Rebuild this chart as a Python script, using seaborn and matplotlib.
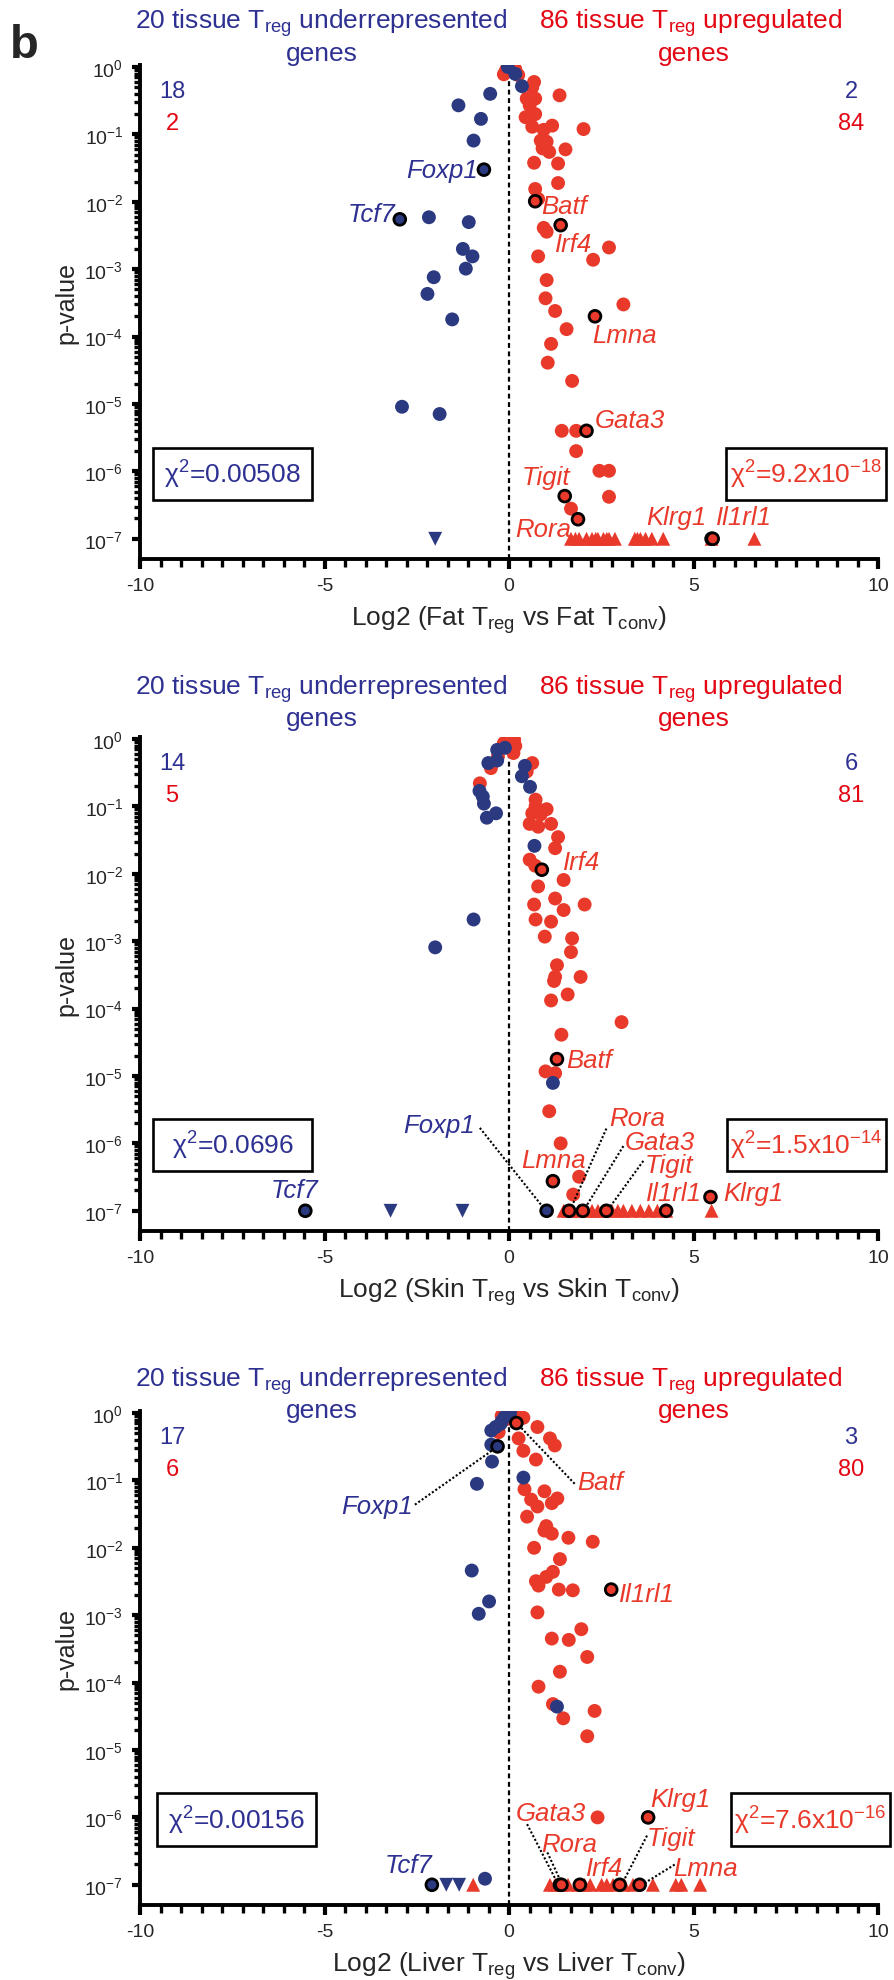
import numpy as np
import pandas as pd
import matplotlib
matplotlib.use("Agg")
import matplotlib.pyplot as plt
import seaborn as sns
from matplotlib.ticker import FixedLocator, MultipleLocator, AutoMinorLocator, NullFormatter
from matplotlib.patches import Rectangle

sns.set_style("ticks")
plt.rcParams['font.family'] = ['Liberation Sans', 'DejaVu Sans']
plt.rcParams['mathtext.fontset'] = 'custom'
plt.rcParams['mathtext.rm'] = 'Liberation Sans'
plt.rcParams['mathtext.it'] = 'Liberation Sans:italic'
plt.rcParams['mathtext.bf'] = 'Liberation Sans:bold'

# ---------------- DATA ----------------
# Panel 1: Fat
fat_blue_x = [-0.03, 0.17, 0.35, -0.51, -1.37, -0.76, -0.96, -2.17, -1.09, -1.25, -0.99, -1.17,
              -2.04, -2.21, -1.54, -2.90, -1.88]
fat_blue_p = [1.0, 0.79, 0.52, 0.40, 0.27, 0.17, 0.081, 0.0059, 0.0050, 0.0020, 0.00155, 0.00102,
              0.00076, 0.00043, 0.00018, 9.1e-6, 7.1e-6]
fat_blue_tri_x = [-2.0]
fat_red_x = [-0.14, -0.08, 0.17, 0.25, 0.68, 0.63, 1.37, 0.48, 0.71, 0.56, 0.71, 0.45, 0.63, 0.94,
             1.17, 2.02, 0.86, 1.02, 0.91, 1.09, 1.53, 0.68, 1.33, 1.33, 0.71, 0.79, 0.94, 1.02,
             2.71, 0.79, 2.28, 1.02, 0.99, 3.10, 1.25, 1.56, 1.14, 1.05, 1.71, 1.43, 1.82, 1.82,
             2.45, 2.71, 2.71, 1.68]
fat_red_p = [0.78, 0.90, 0.93, 0.76, 0.60, 0.50, 0.38, 0.34, 0.34, 0.27, 0.20, 0.18, 0.13, 0.117,
             0.135, 0.12, 0.081, 0.078, 0.062, 0.055, 0.060, 0.038, 0.037, 0.019, 0.0155, 0.011,
             0.0041, 0.0036, 0.0021, 0.00155, 0.00138, 0.00069, 0.00037, 0.0003, 0.00024,
             0.000129, 7.8e-5, 4.1e-5, 2.2e-5, 4.0e-6, 4.0e-6, 2.0e-6, 1.02e-6, 1.02e-6, 4.2e-7,
             2.8e-7]
fat_red_tri_x = [1.68, 1.80, 1.90, 2.10, 2.25, 2.35, 2.41, 2.56, 2.65, 2.71, 2.87, 3.41, 3.48,
                 3.56, 3.70, 3.87, 4.18, 5.49, 6.65]
fat_gene = ["Foxp1", "Tcf7", "Batf", "Irf4", "Lmna", "Gata3", "Tigit", "Rora", "Klrg1", "Il1rl1"]
fat_gene_x = [-0.68, -2.96, 0.71, 1.40, 2.33, 2.10, 1.51, 1.87, 5.49, 5.52]
fat_gene_p = [0.030, 0.0055, 0.0102, 0.0045, 2.0e-4, 4.0e-6, 4.3e-7, 1.95e-7, 1e-7, 1e-7]
fat_gene_up = [False, False, True, True, True, True, True, True, True, True]

# Panel 2: Skin
skin_blue_x = [-0.32, -0.11, -0.56, -0.32, 0.43, 0.35, 0.57, -0.80, -0.71, -0.68, -0.35, -0.60,
               0.69, -0.96, -2.00, 1.19]
skin_blue_p = [0.69, 0.74, 0.44, 0.48, 0.40, 0.28, 0.195, 0.17, 0.14, 0.11, 0.079, 0.068, 0.026,
               0.0021, 0.00081, 7.9e-6]
skin_blue_tri_x = [-3.21, -1.26]
skin_red_x = [-0.14, -0.05, 0.14, 0.17, 0.12, -0.49, -0.79, -0.30, 0.63, 0.48, 0.72, 0.72, 1.02,
              0.63, 0.86, 0.56, 0.79, 1.14, 1.33, 1.25, 0.56, 0.71, 1.48, 0.79, 1.25, 0.68, 1.48,
              2.05, 0.72, 1.14, 0.97, 1.71, 1.68, 1.30, 1.25, 1.94, 1.22, 1.59, 1.14, 3.05, 1.42,
              0.99, 1.25, 1.09, 1.40, 1.90, 1.74]
skin_red_p = [0.87, 0.80, 0.98, 0.79, 0.62, 0.37, 0.22, 0.55, 0.44, 0.33, 0.126, 0.10, 0.091,
              0.079, 0.076, 0.055, 0.050, 0.055, 0.035, 0.024, 0.0162, 0.0132, 0.0081, 0.0065,
              0.0043, 0.0035, 0.0029, 0.0035, 0.0021, 0.00195, 0.00117, 0.0011, 0.00069,
              0.00044, 0.000295, 0.000295, 0.000257, 0.000162, 0.000132, 6.3e-5, 4.1e-5,
              1.17e-5, 1.1e-5, 3.0e-6, 1.0e-6, 3.2e-7, 1.74e-7]
skin_red_tri_x = [1.48, 1.60, 1.71, 1.90, 2.10, 2.25, 2.41, 2.56, 2.79, 2.95, 3.10, 3.33, 3.56,
                  3.79, 4.02, 4.26, 5.49]
skin_gene = ["Foxp1", "Tcf7", "Irf4", "Batf", "Lmna", "Rora", "Gata3", "Tigit", "Il1rl1", "Klrg1"]
skin_gene_x = [1.02, -5.52, 0.89, 1.30, 1.19, 1.63, 2.00, 2.64, 4.26, 5.46]
skin_gene_p = [1e-7, 1e-7, 0.0115, 1.78e-5, 2.75e-7, 1e-7, 1e-7, 1e-7, 1e-7, 1.6e-7]
skin_gene_up = [False, False, True, True, True, True, True, True, True, True]

# Panel 3: Liver
liver_blue_x = [0.03, -0.12, -0.23, -0.36, -0.48, -0.20, -0.48, -0.46, 0.39, -0.87, -1.01, -0.54,
                -0.82, 1.30, -0.65]
liver_blue_p = [1.0, 0.87, 0.69, 0.62, 0.55, 0.75, 0.34, 0.19, 0.11, 0.089, 0.0046, 0.0016,
                0.00105, 4.4e-5, 1.23e-7]
liver_blue_tri_x = [-1.70, -1.35]
liver_red_x = [-0.20, -0.05, -0.10, 0.19, 0.39, 0.77, -0.28, 0.26, 1.11, 1.24, 0.39, 0.73, 0.42,
               0.96, 0.60, 1.31, 1.16, 0.77, 0.49, 1.01, 0.96, 1.16, 1.61, 2.27, 0.68, 1.38,
               1.19, 1.01, 0.73, 0.80, 1.35, 1.73, 0.77, 1.96, 1.16, 1.62, 2.12, 1.38, 0.80,
               1.19, 2.32, 1.47, 2.12, 2.40]
liver_red_p = [0.91, 0.95, 0.80, 0.91, 0.85, 0.62, 0.52, 0.42, 0.42, 0.33, 0.275, 0.204, 0.074,
               0.069, 0.052, 0.054, 0.046, 0.041, 0.029, 0.021, 0.018, 0.0162, 0.0141, 0.0123,
               0.0100, 0.0068, 0.0044, 0.0037, 0.0032, 0.00275, 0.0024, 0.00234, 0.0011,
               0.00062, 0.00045, 0.00043, 0.00024, 0.000145, 8.7e-5, 4.8e-5, 3.8e-5, 2.95e-5,
               1.6e-5, 1.0e-6]
liver_red_tri_x = [-0.97, 1.11, 1.25, 1.42, 1.60, 1.89, 2.05, 2.20, 2.51, 2.65, 2.82, 3.12, 3.36,
                   3.90, 4.52, 4.67, 5.18]
liver_gene = ["Foxp1", "Tcf7", "Batf", "Il1rl1", "Klrg1", "Gata3", "Rora", "Irf4", "Tigit", "Lmna"]
liver_gene_x = [-0.31, -2.09, 0.20, 2.77, 3.77, 1.38, 1.42, 1.92, 3.00, 3.54]
liver_gene_p = [0.32, 1e-7, 0.71, 0.0024, 1e-6, 1e-7, 1e-7, 1e-7, 1e-7, 1e-7]
liver_gene_up = [False, False, True, True, True, True, True, True, True, True]

counts = [("18", "2", "2", "84"), ("14", "5", "6", "81"), ("17", "6", "3", "80")]
chi_left = ["χ$^{2}$=0.00508", "χ$^{2}$=0.0696", "χ$^{2}$=0.00156"]
chi_right = ["χ$^{2}$=9.2x10$^{-18}$", "χ$^{2}$=1.5x10$^{-14}$", "χ$^{2}$=7.6x10$^{-16}$"]
xlabels = [r"Log2 (Fat T$_{\rm reg}$ vs Fat T$_{\rm conv}$)",
           r"Log2 (Skin T$_{\rm reg}$ vs Skin T$_{\rm conv}$)",
           r"Log2 (Liver T$_{\rm reg}$ vs Liver T$_{\rm conv}$)"]
ytick_vals = [1, 1e-1, 1e-2, 1e-3, 1e-4, 1e-5, 1e-6, 1e-7]
ytick_labels = ["10$^{0}$", "10$^{-1}$", "10$^{-2}$", "10$^{-3}$", "10$^{-4}$", "10$^{-5}$",
                "10$^{-6}$", "10$^{-7}$"]

BLUE = "#2B3A80"
BLUE_T = "#2E3192"
RED = "#E8392A"
RED_T = "#E30613"
FLOOR = 1e-7

W, H = 894, 1981
fig = plt.figure(figsize=(W / 100, H / 100), dpi=100)


def fx(x):
    return x / W


def fy(y):
    return 1 - y / H


panels = [
    dict(bx=fat_blue_x, bp=fat_blue_p, btx=fat_blue_tri_x, rx=fat_red_x, rp=fat_red_p,
         rtx=fat_red_tri_x, g=fat_gene, gx=fat_gene_x, gp=fat_gene_p, gu=fat_gene_up,
         bottom=560, title_y=(29, 61), box_y=(449, 501), box_l=(153, 312), box_r=(726, 886),
         labels=[("Foxp1", -0.83, -1.53, "right", False), ("Tcf7", -3.07, -2.18, "right", False),
                 ("Batf", 0.86, -2.06, "left", True), ("Irf4", 1.25, -2.62, "left", True),
                 ("Lmna", 2.25, -3.98, "left", True), ("Gata3", 2.33, -5.24, "left", True),
                 ("Tigit", 0.35, -6.09, "left", True), ("Rora", 0.17, -6.86, "left", True),
                 ("Klrg1", 3.72, -6.68, "left", True), ("Il1rl1", 5.62, -6.68, "left", True)],
         leaders=[]),
    dict(bx=skin_blue_x, bp=skin_blue_p, btx=skin_blue_tri_x, rx=skin_red_x, rp=skin_red_p,
         rtx=skin_red_tri_x, g=skin_gene, gx=skin_gene_x, gp=skin_gene_p, gu=skin_gene_up,
         bottom=1232, title_y=(695, 726), box_y=(1120, 1172), box_l=(153, 312), box_r=(727, 886),
         labels=[("Irf4", 1.45, -1.83, "left", True), ("Batf", 1.56, -4.76, "left", True),
                 ("Foxp1", -0.91, -5.72, "right", False), ("Rora", 2.71, -5.62, "left", True),
                 ("Gata3", 3.13, -5.98, "left", True), ("Tigit", 3.69, -6.32, "left", True),
                 ("Lmna", 0.32, -6.24, "left", True), ("Il1rl1", 3.72, -6.74, "left", True),
                 ("Klrg1", 5.80, -6.74, "left", True), ("Tcf7", -6.46, -6.69, "left", False)],
         leaders=[((-0.79, -5.77), (0.94, -6.96)), ((2.64, -5.78), (1.68, -6.96)),
                  ((3.10, -6.04), (2.05, -6.97)), ((3.64, -6.26), (2.70, -6.97))]),
    dict(bx=liver_blue_x, bp=liver_blue_p, btx=liver_blue_tri_x, rx=liver_red_x, rp=liver_red_p,
         rtx=liver_red_tri_x, g=liver_gene, gx=liver_gene_x, gp=liver_gene_p, gu=liver_gene_up,
         bottom=1906, title_y=(1387, 1418), box_y=(1794, 1847), box_l=(157, 316), box_r=(731, 890),
         labels=[("Foxp1", -2.60, -1.38, "right", False), ("Batf", 1.84, -1.03, "left", True),
                 ("Il1rl1", 2.97, -2.68, "left", True), ("Klrg1", 3.82, -5.73, "left", True),
                 ("Gata3", 0.19, -5.93, "left", True), ("Rora", 0.88, -6.40, "left", True),
                 ("Irf4", 2.09, -6.75, "left", True), ("Tigit", 3.74, -6.30, "left", True),
                 ("Lmna", 4.44, -6.75, "left", True), ("Tcf7", -3.37, -6.70, "left", False)],
         leaders=[((-2.55, -1.36), (-0.39, -0.53)), ((1.78, -1.05), (0.26, -0.18)),
                  ((0.49, -6.10), (1.31, -6.97)), ((1.04, -6.52), (1.42, -6.97)),
                  ((3.74, -6.27), (3.08, -6.97)), ((4.49, -6.70), (3.63, -6.99))]),
]

AX_LEFT, AX_W, AX_H = 140, 738, 494
YMIN, YMAX = 10 ** -7.3, 10 ** 0.03

minor_y = [k * 10.0 ** -d for d in range(1, 8) for k in range(2, 10)]

for i, P in enumerate(panels):
    ax = fig.add_axes([fx(AX_LEFT), fy(P["bottom"]), AX_W / W, AX_H / H])
    ax.set_yscale("log")
    ax.set_xlim(-10, 10)
    ax.set_ylim(YMIN, YMAX)

    ax.axvline(0, 0, 0.996, color="black", lw=1.6, ls=(0, (2.2, 1.6)), zorder=1)

    sns.scatterplot(x=P["rx"], y=P["rp"], ax=ax, color=RED, s=100, marker="o",
                    linewidth=0, edgecolor="none", zorder=3, legend=False)
    sns.scatterplot(x=P["bx"], y=P["bp"], ax=ax, color=BLUE, s=100, marker="o",
                    linewidth=0, edgecolor="none", zorder=4, legend=False)
    sns.scatterplot(x=P["rtx"], y=[FLOOR] * len(P["rtx"]), ax=ax, color=RED, s=100, marker="^",
                    linewidth=0, edgecolor="none", zorder=3, legend=False)
    sns.scatterplot(x=P["btx"], y=[FLOOR] * len(P["btx"]), ax=ax, color=BLUE, s=100, marker="v",
                    linewidth=0, edgecolor="none", zorder=4, legend=False)
    gdf = pd.DataFrame({"x": P["gx"], "p": P["gp"],
                        "dir": ["up" if u else "down" for u in P["gu"]]})
    sns.scatterplot(data=gdf, x="x", y="p", hue="dir", palette={"up": RED, "down": BLUE},
                    ax=ax, s=72, marker="o", edgecolor="black", linewidth=2.0, zorder=6,
                    legend=False)

    for name, x, lp, ha, up in P["labels"]:
        ax.text(x, 10 ** lp, name, ha=ha, va="center", style="italic", fontsize=18.5,
                color=RED if up else BLUE_T, zorder=7)
    for (x1, l1), (x2, l2) in P["leaders"]:
        ax.plot([x1, x2], [10 ** l1, 10 ** l2], color="black", lw=1.5, ls=(0, (1, 1)), zorder=5)

    # axes styling
    for s in ["top", "right"]:
        ax.spines[s].set_visible(False)
    for s in ["left", "bottom"]:
        ax.spines[s].set_linewidth(2.8)
        ax.spines[s].set_color("black")
    ax.yaxis.set_major_locator(FixedLocator(ytick_vals))
    ax.yaxis.set_major_formatter(matplotlib.ticker.FixedFormatter(ytick_labels))
    ax.yaxis.set_minor_locator(FixedLocator(minor_y))
    ax.yaxis.set_minor_formatter(NullFormatter())
    ax.set_xticks([-10, -5, 0, 5, 10])
    ax.set_xticklabels(["-10", "-5", "0", "5", "10"])
    ax.xaxis.set_minor_locator(AutoMinorLocator(9))
    ax.tick_params(axis="y", which="major", direction="out", length=6, width=3, pad=6,
                   labelsize=14, color="black")
    ax.tick_params(axis="y", which="minor", direction="out", length=4, width=2.4, color="black")
    ax.tick_params(axis="x", which="major", direction="out", length=7, width=3, pad=6,
                   labelsize=14, color="black")
    ax.tick_params(axis="x", which="minor", direction="out", length=6, width=2.4, color="black")
    ax.set_xlabel("")
    ax.set_ylabel("")
    ax.grid(False)
    ax.text(-0.1, 0.52, "p-value", rotation=90, transform=ax.transAxes, ha="center",
            va="center", fontsize=18)
    ax.text(0.5, -0.121, xlabels[i], transform=ax.transAxes, ha="center", va="center",
            fontsize=19)

    # titles
    y1, y2 = P["title_y"]
    fig.text(fx(321), fy(y1), r"20 tissue T$_{\rm reg}$ underrepresented", color=BLUE_T,
             ha="center", va="baseline", fontsize=19)
    fig.text(fx(322), fy(y2), "genes", color=BLUE_T, ha="center", va="baseline", fontsize=19)
    fig.text(fx(691), fy(y1), r"86 tissue T$_{\rm reg}$ upregulated", color=RED_T,
             ha="center", va="baseline", fontsize=19)
    fig.text(fx(694), fy(y2), "genes", color=RED_T, ha="center", va="baseline", fontsize=19)

    # counts
    y0 = P["bottom"] - 492
    c = counts[i]
    fig.text(fx(172), fy(y0 + 30), c[0], color=BLUE_T, ha="center", va="baseline", fontsize=17)
    fig.text(fx(172), fy(y0 + 62), c[1], color=RED_T, ha="center", va="baseline", fontsize=17)
    fig.text(fx(851), fy(y0 + 30), c[2], color=BLUE_T, ha="center", va="baseline", fontsize=17)
    fig.text(fx(851), fy(y0 + 62), c[3], color=RED_T, ha="center", va="baseline", fontsize=17)

    # chi-square boxes
    bt, bb = P["box_y"]
    for (bl, br), txt, col in [(P["box_l"], chi_left[i], BLUE_T), (P["box_r"], chi_right[i], RED)]:
        fig.patches.append(Rectangle((fx(bl), fy(bb)), (br - bl) / W, (bb - bt) / H,
                                     transform=fig.transFigure, fill=False, edgecolor="black",
                                     linewidth=1.9, zorder=10))
        fig.text(fx((bl + br) / 2), fy((bt + bb) / 2), txt, color=col, ha="center",
                 va="center", fontsize=19)

fig.text(fx(10), fy(58), "b", fontsize=34, fontweight="bold", ha="left", va="baseline")

fig.savefig("out.png", dpi=100)
